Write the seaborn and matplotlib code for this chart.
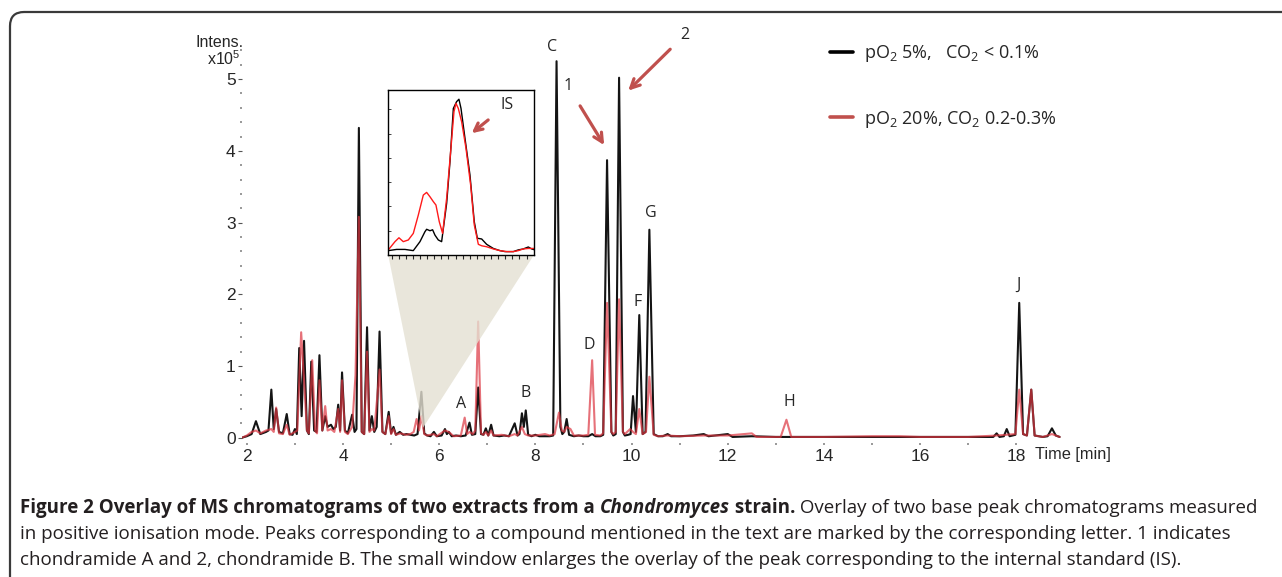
import numpy as np
import pandas as pd
import matplotlib
matplotlib.use('Agg')
import matplotlib.pyplot as plt
import seaborn as sns
from matplotlib.lines import Line2D
from matplotlib.patches import FancyBboxPatch

# base peak chromatogram, pO2 5% / CO2 < 0.1% (time in min, intensity x1e5)
black_t = [1.90, 2.00, 2.10, 2.19, 2.28, 2.40, 2.45, 2.51, 2.56, 2.61, 2.67, 2.75, 2.83, 2.89, 2.95,
           3.00, 3.04, 3.09, 3.14, 3.19, 3.25, 3.29, 3.34, 3.40, 3.45, 3.51, 3.57, 3.63, 3.68, 3.75,
           3.80, 3.85, 3.90, 3.94, 3.98, 4.04, 4.10, 4.19, 4.24, 4.28, 4.33, 4.39, 4.44, 4.50, 4.55,
           4.60, 4.65, 4.70, 4.76, 4.82, 4.88, 4.95, 5.00, 5.05, 5.10, 5.18, 5.25, 5.32, 5.40, 5.48,
           5.55, 5.63, 5.69, 5.75, 5.82, 5.89, 5.95, 6.05, 6.12, 6.16, 6.20, 6.26, 6.35, 6.45, 6.55,
           6.63, 6.68, 6.75, 6.81, 6.87, 6.92, 6.97, 7.02, 7.08, 7.13, 7.25, 7.35, 7.45, 7.57, 7.63,
           7.67, 7.72, 7.76, 7.80, 7.85, 7.92, 8.00, 8.08, 8.20, 8.30, 8.37, 8.44, 8.52, 8.56, 8.60,
           8.65, 8.70, 8.80, 8.90, 9.00, 9.10, 9.18, 9.25, 9.35, 9.41, 9.49, 9.58, 9.62, 9.67, 9.74,
           9.82, 9.86, 9.93, 9.98, 10.03, 10.09, 10.16, 10.23, 10.29, 10.37, 10.46, 10.55, 10.65, 10.75, 10.82,
           11.00, 11.28, 11.50, 11.60, 12.00, 12.10, 12.50, 13.00, 14.00, 15.00, 16.00, 17.00, 17.52, 17.59, 17.65,
           17.74, 17.80, 17.86, 17.98, 18.06, 18.14, 18.22, 18.31, 18.38, 18.55, 18.65, 18.74, 18.82, 18.90]
black_i = [0.00, 0.02, 0.05, 0.23, 0.05, 0.08, 0.10, 0.67, 0.12, 0.40, 0.08, 0.06, 0.33, 0.05, 0.04,
           0.12, 0.05, 1.25, 0.30, 1.35, 0.10, 0.05, 1.06, 0.10, 0.08, 1.15, 0.10, 0.30, 0.15, 0.18,
           0.12, 0.15, 0.46, 0.10, 0.91, 0.10, 0.06, 0.32, 0.08, 0.12, 4.32, 0.08, 0.05, 1.54, 0.10,
           0.30, 0.08, 0.15, 1.48, 0.08, 0.05, 0.36, 0.06, 0.15, 0.04, 0.08, 0.04, 0.05, 0.04, 0.03,
           0.05, 0.64, 0.06, 0.03, 0.02, 0.08, 0.02, 0.03, 0.12, 0.05, 0.08, 0.02, 0.03, 0.02, 0.03,
           0.21, 0.04, 0.05, 0.70, 0.05, 0.04, 0.13, 0.03, 0.18, 0.03, 0.02, 0.03, 0.02, 0.20, 0.03,
           0.05, 0.34, 0.15, 0.38, 0.04, 0.02, 0.04, 0.02, 0.02, 0.02, 0.03, 5.25, 0.15, 0.05, 0.08,
           0.26, 0.04, 0.02, 0.03, 0.02, 0.02, 0.05, 0.02, 0.02, 0.04, 3.87, 0.08, 0.03, 0.05, 5.02,
           0.08, 0.03, 0.04, 0.05, 0.58, 0.08, 1.71, 0.05, 0.08, 2.90, 0.05, 0.02, 0.02, 0.05, 0.02,
           0.02, 0.03, 0.05, 0.02, 0.05, 0.01, 0.02, 0.01, 0.01, 0.01, 0.01, 0.01, 0.01, 0.06, 0.01,
           0.02, 0.12, 0.02, 0.04, 1.88, 0.05, 0.03, 0.67, 0.03, 0.01, 0.02, 0.13, 0.03, 0.01]

# base peak chromatogram, pO2 20% / CO2 0.2-0.3%
red_t = [1.90, 2.00, 2.10, 2.19, 2.28, 2.40, 2.51, 2.56, 2.61, 2.67, 2.75, 2.83, 2.89, 3.00, 3.05,
         3.13, 3.19, 3.25, 3.29, 3.36, 3.42, 3.46, 3.51, 3.57, 3.63, 3.68, 3.75, 3.82, 3.90, 3.94,
         3.98, 4.04, 4.10, 4.19, 4.26, 4.33, 4.39, 4.44, 4.50, 4.55, 4.60, 4.65, 4.71, 4.76, 4.82,
         4.88, 4.95, 5.00, 5.05, 5.10, 5.20, 5.30, 5.40, 5.47, 5.53, 5.58, 5.63, 5.69, 5.75, 5.89,
         5.95, 6.12, 6.20, 6.30, 6.45, 6.53, 6.58, 6.63, 6.70, 6.75, 6.81, 6.87, 6.92, 6.97, 7.02,
         7.08, 7.13, 7.30, 7.45, 7.57, 7.63, 7.72, 7.78, 7.85, 8.00, 8.20, 8.30, 8.40, 8.49, 8.55,
         8.60, 8.65, 8.73, 8.80, 9.00, 9.10, 9.18, 9.24, 9.35, 9.41, 9.49, 9.58, 9.62, 9.67, 9.74,
         9.82, 9.86, 9.97, 10.03, 10.09, 10.16, 10.23, 10.30, 10.37, 10.46, 10.55, 10.75, 11.00, 11.50, 12.00,
         12.50, 12.60, 13.10, 13.22, 13.32, 14.00, 15.00, 15.57, 16.00, 17.00, 17.59, 17.80, 17.98, 18.06, 18.14,
         18.22, 18.31, 18.38, 18.55, 18.74, 18.90]
red_i = [0.00, 0.03, 0.08, 0.10, 0.06, 0.10, 0.12, 0.08, 0.42, 0.06, 0.05, 0.18, 0.04, 0.08, 0.10,
         1.47, 0.80, 0.10, 0.06, 1.08, 0.10, 0.06, 0.80, 0.10, 0.44, 0.10, 0.12, 0.08, 0.40, 0.08,
         0.80, 0.08, 0.05, 0.15, 0.87, 3.08, 0.08, 0.05, 1.20, 0.08, 0.12, 0.10, 0.55, 0.95, 0.08,
         0.05, 0.30, 0.05, 0.12, 0.04, 0.06, 0.04, 0.05, 0.08, 0.26, 0.10, 0.30, 0.05, 0.03, 0.05,
         0.02, 0.10, 0.08, 0.02, 0.03, 0.28, 0.05, 0.08, 0.05, 0.10, 1.62, 0.06, 0.04, 0.08, 0.03,
         0.10, 0.03, 0.04, 0.02, 0.05, 0.03, 0.15, 0.05, 0.03, 0.03, 0.05, 0.03, 0.05, 0.35, 0.10,
         0.08, 0.15, 0.12, 0.03, 0.03, 0.04, 1.08, 0.04, 0.03, 0.06, 1.88, 0.08, 0.05, 0.08, 1.93,
         0.08, 0.05, 0.12, 0.08, 0.05, 0.40, 0.05, 0.08, 0.85, 0.04, 0.02, 0.03, 0.02, 0.03, 0.03,
         0.06, 0.01, 0.01, 0.25, 0.01, 0.01, 0.02, 0.02, 0.01, 0.01, 0.03, 0.04, 0.05, 0.67, 0.05,
         0.03, 0.67, 0.03, 0.01, 0.05, 0.01]

# enlarged window around the internal standard (scan index, intensity x1e5)
is_black_x = [-0.47, 0.70, 1.88, 3.05, 3.99, 4.69, 4.93, 5.40, 5.77, 6.10, 6.57, 7.04, 7.75, 8.22, 8.69,
              9.15, 9.48, 9.77, 10.33, 11.03, 11.64, 12.07, 12.68, 13.38, 14.32, 15.26, 15.96, 17.14, 17.84, 18.54,
              19.25, 19.72, 20.05]
is_black_i = [0.018, 0.023, 0.023, 0.018, 0.055, 0.096, 0.106, 0.100, 0.104, 0.082, 0.062, 0.055, 0.213, 0.385, 0.604,
              0.632, 0.642, 0.604, 0.481, 0.330, 0.137, 0.069, 0.066, 0.044, 0.027, 0.018, 0.014, 0.014, 0.021, 0.025,
              0.033, 0.025, 0.022]
is_red_x = [-0.47, 0.47, 1.03, 1.64, 2.35, 3.05, 3.76, 4.46, 4.93, 5.40, 5.87, 6.24, 6.71, 7.18, 7.75,
            8.31, 8.78, 9.06, 9.39, 9.86, 10.47, 11.13, 11.64, 12.21, 12.68, 13.38, 14.32, 15.26, 16.20, 17.14,
            17.84, 18.54, 19.25, 20.05]
is_red_i = [0.021, 0.055, 0.071, 0.055, 0.062, 0.089, 0.165, 0.247, 0.258, 0.240, 0.220, 0.206, 0.137, 0.089, 0.234,
            0.426, 0.591, 0.625, 0.604, 0.549, 0.440, 0.288, 0.124, 0.044, 0.038, 0.034, 0.025, 0.018, 0.014, 0.014,
            0.018, 0.025, 0.027, 0.027]

series_labels = ['pO$_2$ 5%,   CO$_2$ < 0.1%', 'pO$_2$ 20%, CO$_2$ 0.2-0.3%']
peak_letters = ['A', 'B', 'C', 'D', 'F', 'G', 'H', 'J']
letter_t = [6.45, 7.80, 8.34, 9.13, 10.13, 10.40, 13.29, 18.05]
letter_i = [0.47, 0.62, 5.45, 1.29, 1.89, 3.13, 0.50, 2.13]

caption = [
    [('Figure 2 Overlay of MS chromatograms of two extracts from a ', 'bold', 'normal'),
     ('Chondromyces', 'bold', 'italic'),
     (' strain.', 'bold', 'normal'),
     (' Overlay of two base peak chromatograms measured', 'normal', 'normal')],
    [('in positive ionisation mode. Peaks corresponding to a compound mentioned in the text are marked '
      'by the corresponding letter. 1 indicates', 'normal', 'normal')],
    [('chondramide A and 2, chondramide B. The small window enlarges the overlay of the peak corresponding '
      'to the internal standard (IS).', 'normal', 'normal')],
]

sns.set_style('white')
plt.rcParams['font.family'] = ['Liberation Sans', 'DejaVu Sans']
plt.rcParams['mathtext.default'] = 'regular'

W, H = 1282, 577
ARROW = '#C0504D'
LABEL_FONT = 'Open Sans'

fig = plt.figure(figsize=(W / 100, H / 100), dpi=100)
ax = fig.add_axes([242 / W, 1 - 443.4 / H, 821 / W, 400.1 / H])

df_black = pd.DataFrame({'time': black_t, 'intens': black_i})
df_red = pd.DataFrame({'time': red_t, 'intens': red_i})
sns.lineplot(data=df_black, x='time', y='intens', ax=ax, color='#141414', lw=1.5,
             estimator=None, sort=False, zorder=2)
sns.lineplot(data=df_red, x='time', y='intens', ax=ax, color='#DC3540', lw=1.5, alpha=0.7,
             estimator=None, sort=False, zorder=2.5)

ax.set_xlim(1.9, 18.97)
ax.set_ylim(-0.08, 5.5)
for s in ax.spines.values():
    s.set_visible(False)
ax.set_xlabel('')
ax.set_ylabel('')
ax.set_xticks(np.arange(2, 19, 2))
ax.set_xticks(np.arange(3, 19, 2), minor=True)
ax.set_yticks(np.arange(0, 6))
ax.set_yticks(np.arange(0, 5.6, 0.2), minor=True)
ax.tick_params(axis='x', which='both', length=1.5, width=1.2, color='#888888', pad=2.5,
               labelsize=12.5, bottom=True)
ax.tick_params(axis='y', which='major', length=3, width=0.8, color='#555555', pad=1.5,
               labelsize=12.5, left=True)
ax.tick_params(axis='y', which='minor', length=1.2, width=1.2, color='#888888', left=True)
ax.text(18.38, -0.23, 'Time [min]', fontsize=11.8, va='center', ha='left')
ax.text(0.002, 1.003, 'Intens.', transform=ax.transAxes, fontsize=11.5, ha='right', va='center')
ax.text(-0.002, 0.961, 'x10$^5$', transform=ax.transAxes, fontsize=11.5, ha='right', va='center')

# zoom wedge from the IS peak up to the inset
ax.fill([4.94, 7.97, 5.66], [2.548, 2.548, 0.135], color='#E4E0D2', alpha=0.8, lw=0, zorder=3)

for lab, t, i in zip(peak_letters, letter_t, letter_i):
    ax.text(t, i, lab, fontsize=11.5, family=LABEL_FONT, ha='center', va='center', zorder=5)

ax.annotate('1', xy=(9.43, 4.08), xytext=(8.68, 4.90), fontsize=11.5, family=LABEL_FONT,
            ha='center', va='center',
            arrowprops=dict(arrowstyle='->', color=ARROW, lw=2.3, mutation_scale=16,
                            shrinkA=7, shrinkB=0))
ax.annotate('2', xy=(9.93, 4.84), xytext=(11.11, 5.62), fontsize=11.5, family=LABEL_FONT,
            ha='center', va='center', annotation_clip=False,
            arrowprops=dict(arrowstyle='->', color=ARROW, lw=2.3, mutation_scale=16,
                            shrinkA=7, shrinkB=0))

handles = [Line2D([], [], color='black', lw=2.6), Line2D([], [], color=ARROW, lw=2.6)]
ax.legend(handles, series_labels, loc='upper left', bbox_to_anchor=(0.716, 1.0), frameon=False,
          prop={'family': LABEL_FONT, 'size': 13}, handlelength=1.3, handletextpad=0.6,
          labelspacing=2.45, borderpad=0, borderaxespad=0)

# inset with the enlarged IS peak
axin = fig.add_axes([388.3 / W, 1 - 255 / H, 145.7 / W, 165 / H])
sns.lineplot(x=is_black_x, y=is_black_i, ax=axin, color='black', lw=1.0, estimator=None, sort=False)
sns.lineplot(x=is_red_x, y=is_red_i, ax=axin, color='#FF1A1A', lw=1.0, estimator=None, sort=False)
axin.set_xlim(-0.47, 20.05)
axin.set_ylim(0, 0.68)
for s in axin.spines.values():
    s.set_color('black')
    s.set_linewidth(1.0)
axin.set_xticks(np.arange(0, 20, 1))
axin.set_yticks(np.arange(0.1, 0.65, 0.1))
axin.tick_params(axis='x', direction='out', length=3, width=0.8, bottom=True, labelbottom=False)
axin.tick_params(axis='y', direction='in', length=2, width=0.6, left=True, labelleft=False)
axin.annotate('IS', xy=(11.28, 0.502), xytext=(16.2, 0.618), fontsize=11.5, family=LABEL_FONT,
              ha='center', va='center',
              arrowprops=dict(arrowstyle='->', color=ARROW, lw=2.3, mutation_scale=14,
                              shrinkA=8, shrinkB=0))

# rounded frame open to the right and bottom
frame = FancyBboxPatch((10 / W, -0.2), 1.3, 1.2 - 12 / H, transform=fig.transFigure,
                       boxstyle='round,pad=0,rounding_size=0.011', mutation_aspect=W / H,
                       fill=False, ec='#3a3a3a', lw=1.6)
fig.patches.append(frame)

# caption, pieces laid out one after the other
renderer = fig.canvas.get_renderer()


def text_width(s, size, weight, style):
    probe = fig.text(0, 0, '|' + s + '|', fontsize=size, fontweight=weight, fontstyle=style,
                     family=LABEL_FONT)
    w = probe.get_window_extent(renderer).width
    probe.set_text('||')
    w -= probe.get_window_extent(renderer).width
    probe.remove()
    return w


line1_width = sum(text_width(s, 10, wt, st) for s, wt, st in caption[0])
cap_size = 10 * 1238 / line1_width
for line, base_y in zip(caption, [513, 539, 565]):
    x = 20
    for s, weight, style in line:
        fig.text(x / W, 1 - base_y / H, s, fontsize=cap_size, fontweight=weight, fontstyle=style,
                 family=LABEL_FONT, va='baseline', color='#231f20')
        x += text_width(s, cap_size, weight, style)

fig.savefig('out.png', dpi=100)
plt.close(fig)
